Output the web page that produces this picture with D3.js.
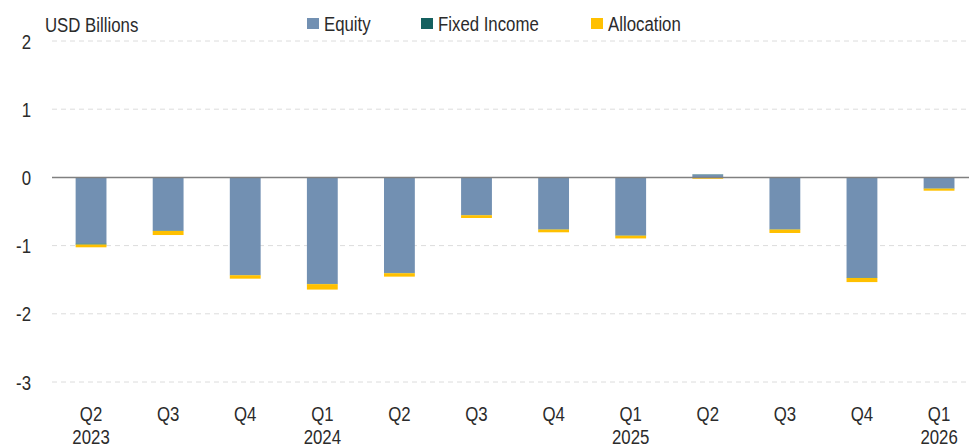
<!DOCTYPE html>
<html>
<head>
<meta charset="utf-8">
<script src="https://cdn.jsdelivr.net/npm/d3@7"></script>
<style>
  body { margin: 0; background: #fff; }
  svg text { font-family: 'Liberation Sans', Arial, sans-serif; fill: #2b2b2b; }
</style>
</head>
<body>
<div id="chart"></div>
<script>
// chart values
const quarters = ['Q2', 'Q3', 'Q4', 'Q1', 'Q2', 'Q3', 'Q4', 'Q1', 'Q2', 'Q3', 'Q4', 'Q1']
const years = ['2023', '', '', '2024', '', '', '', '2025', '', '', '', '2026']
const equity = [-0.97, -0.78, -1.43, -1.56, -1.40, -0.55, -0.76, -0.85, 0.04, -0.76, -1.47, -0.16]
const fixedIncome = [-0.015, -0.005, -0.005, -0.005, -0.005, -0.005, -0.005, -0.005, 0.005, -0.005, -0.005, -0.005]
const allocation = [-0.04, -0.06, -0.05, -0.08, -0.05, -0.04, -0.04, -0.04, -0.02, -0.05, -0.06, -0.03]
const yTicks = [2, 1, 0, -1, -2, -3]
const seriesNames = ['Equity', 'Fixed Income', 'Allocation']
const seriesColors = ['#7290b2', '#14605f', '#ffc000']

const drawChart = () => {
  const width = 969
  const height = 447
  const fontSize = '21px'
  const squeeze = 0.8 // fake a condensed face

  const svg = d3.select('#chart')
    .append('svg')
    .attr('width', width)
    .attr('height', height)

  // condensed text helper
  const addText = (parent, x, y, str, anchor) =>
    parent.append('text')
      .attr('transform', `translate(${x}, ${y}) scale(${squeeze}, 1)`)
      .attr('text-anchor', anchor || 'start')
      .attr('font-size', fontSize)
      .text(str)

  const rows = quarters.map((q, i) => ({
    key: i,
    'Equity': equity[i],
    'Fixed Income': fixedIncome[i],
    'Allocation': allocation[i]
  }))

  const xScale = d3.scaleBand()
    .domain(rows.map(d => d.key))
    .range([52.5, 977.6])
    .paddingInner(0.6)
    .paddingOuter(0.3)

  const yScale = d3.scaleLinear()
    .domain([-3, 2])
    .range([382, 41])

  // gridlines (dashed)
  svg.append('g')
    .selectAll('line')
    .data(yTicks.filter(t => t !== 0))
    .join('line')
    .attr('x1', 52)
    .attr('x2', width)
    .attr('y1', d => yScale(d))
    .attr('y2', d => yScale(d))
    .attr('stroke', '#dcdcdc')
    .attr('stroke-width', 1)
    .attr('stroke-dasharray', '5,4')

  // y tick labels
  const yLabels = svg.append('g')
  yTicks.forEach(t => addText(yLabels, 31, yScale(t) + 7.5, t, 'end'))

  // stacked bars
  const stack = d3.stack()
    .keys(seriesNames)
    .offset(d3.stackOffsetDiverging)
  const stacked = stack(rows)

  svg.append('g')
    .selectAll('g')
    .data(stacked)
    .join('g')
    .attr('fill', (d, i) => seriesColors[i])
    .selectAll('rect')
    .data(d => d)
    .join('rect')
    .attr('x', d => xScale(d.data.key))
    .attr('width', xScale.bandwidth())
    .attr('y', d => yScale(Math.max(d[0], d[1])))
    .attr('height', d => Math.abs(yScale(d[0]) - yScale(d[1])))

  // zero line
  svg.append('line')
    .attr('x1', 52)
    .attr('x2', width)
    .attr('y1', yScale(0))
    .attr('y2', yScale(0))
    .attr('stroke', '#808080')
    .attr('stroke-width', 1.5)

  // x labels: quarter + year
  const xLabels = svg.append('g')
  rows.forEach(d => {
    const cx = xScale(d.key) + xScale.bandwidth() / 2
    addText(xLabels, cx, 421, quarters[d.key], 'middle')
    if (years[d.key] !== '') addText(xLabels, cx, 444, years[d.key], 'middle')
  })

  // unit label
  addText(svg, 45, 31.5, 'USD Billions')

  // legend
  const legendX = [307, 421, 591]
  seriesNames.forEach((name, i) => {
    const g = svg.append('g').attr('transform', `translate(${legendX[i]}, 18)`)
    g.append('rect')
      .attr('width', 12)
      .attr('height', 11)
      .attr('fill', seriesColors[i])
    addText(g, 17, 13, name)
  })
}

drawChart()
</script>
</body>
</html>
